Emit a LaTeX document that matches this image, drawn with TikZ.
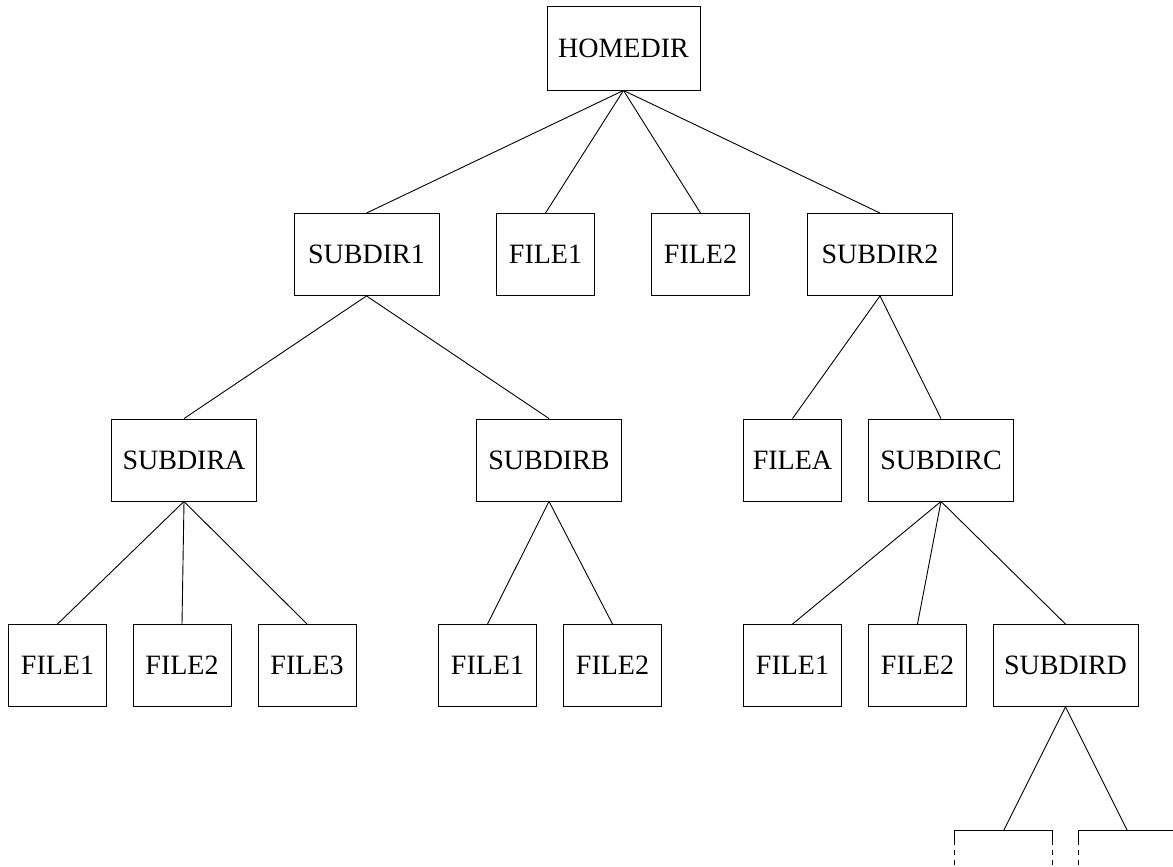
\documentclass[tikz,border=0pt]{standalone}
\usepackage{fontspec}
\setmainfont{Liberation Serif}
\usetikzlibrary{calc}
\tikzset{
  box/.style={draw, line width=0.9pt, minimum height=82pt, inner sep=0pt, font=\fontsize{28}{32}\selectfont},
  filebox/.style={box, minimum width=98pt},
  dirbox/.style={box, minimum width=145pt},
  ghost/.style={minimum width=97pt, minimum height=84pt, inner sep=0pt},
  link/.style={line width=0.9pt},
  ghostdash/.style={line width=0.9pt, dash pattern=on 5pt off 5pt}
}
\begin{document}
\begin{tikzpicture}[x=1pt,y=-1pt]
\useasboundingbox (0,0) rectangle (1173,867);
\clip (0,0) rectangle (1173,867);
% row 1
\node[box, minimum width=153pt, minimum height=84pt] (home) at (623.5,48) {HOMEDIR};
% row 2
\node[dirbox]  (s1) at (366.5,254.5) {SUBDIR1};
\node[filebox] (f1) at (545.5,254.5) {FILE1};
\node[filebox] (f2) at (700.5,254.5) {FILE2};
\node[dirbox]  (s2) at (880,254.5) {SUBDIR2};
% row 3
\node[dirbox]  (sa) at (184,460) {SUBDIRA};
\node[dirbox]  (sb) at (549,460) {SUBDIRB};
\node[filebox] (fa) at (792.5,460) {FILEA};
\node[dirbox]  (sc) at (941,460) {SUBDIRC};
% row 4
\node[filebox] (a1) at (57.5,665.5) {FILE1};
\node[filebox] (a2) at (182,665.5) {FILE2};
\node[filebox] (a3) at (307,665.5) {FILE3};
\node[filebox] (b1) at (487.5,665.5) {FILE1};
\node[filebox] (b2) at (612.5,665.5) {FILE2};
\node[filebox] (c1) at (792.5,665.5) {FILE1};
\node[filebox] (c2) at (917.5,665.5) {FILE2};
\node[dirbox]  (sd) at (1065.5,665.5) {SUBDIRD};
% row 5 (cut off)
\node[ghost] (d1) at (1003.5,873) {};
\node[ghost] (d2) at (1127.5,873) {};
% connectors
\foreach \c in {s1,f1,f2,s2} \draw[link] (home.south) -- (\c.north);
\foreach \c in {sa,sb} \draw[link] (s1.south) -- (\c.north);
\foreach \c in {fa,sc} \draw[link] (s2.south) -- (\c.north);
\foreach \c in {a1,a2,a3} \draw[link] (sa.south) -- (\c.north);
\foreach \c in {b1,b2} \draw[link] (sb.south) -- (\c.north);
\foreach \c in {c1,c2,sd} \draw[link] (sc.south) -- (\c.north);
\foreach \c in {d1,d2} \draw[link] (sd.south) -- (\c.north);
% partial boxes
\foreach \c in {d1,d2} {
  \draw[link] ($(\c.north west)+(0,14)$) -- (\c.north west) -- (\c.north east) -- ($(\c.north east)+(0,14)$);
  \draw[ghostdash] ($(\c.north west)+(0,19)$) -- ($(\c.north west)+(0,60)$);
  \draw[ghostdash] ($(\c.north east)+(0,19)$) -- ($(\c.north east)+(0,60)$);
}
\end{tikzpicture}
\end{document}
